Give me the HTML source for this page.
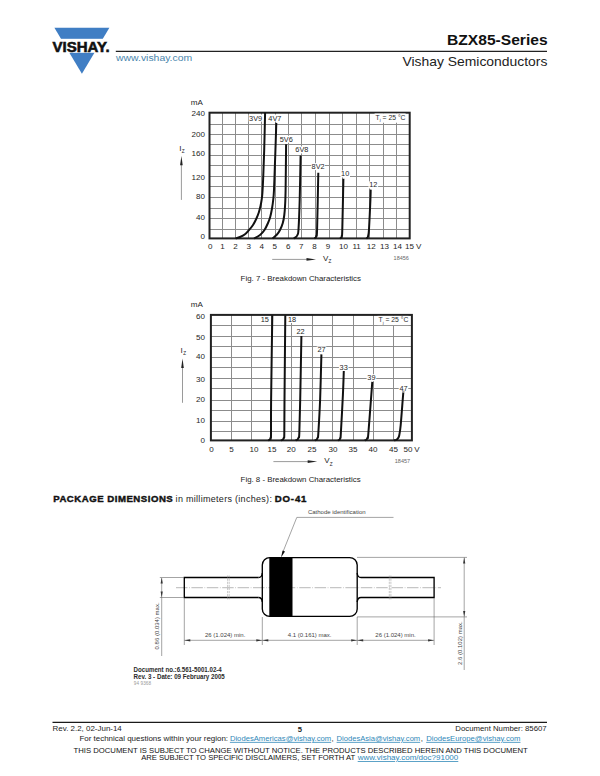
<!DOCTYPE html>
<html><head><meta charset="utf-8">
<style>
html,body{margin:0;padding:0;background:#fff;}
body{width:600px;height:776px;position:relative;overflow:hidden;font-family:"Liberation Sans",sans-serif;color:#111;}
svg{position:absolute;left:0;top:0;}
svg text{font-family:"Liberation Sans",sans-serif;}
.g{stroke:#8c8c8c;stroke-width:1;}
.fr{fill:none;stroke:#222;stroke-width:2;}
.cv{fill:none;stroke:#111;stroke-width:2;stroke-linecap:butt;}
.t{font-size:8.05px;fill:#262626;}
.tj{font-size:6.8px;fill:#2a2a2a;}
.tl{font-size:7.35px;fill:#262626;}
.tn{font-size:5.5px;fill:#666;}
.ar{stroke:#555;stroke-width:0.6;}
.dl{stroke:#666;stroke-width:0.6;fill:none;}
.ol{stroke:#000;stroke-width:1.35;fill:none;}
.dt{font-size:6.0px;fill:#444;}
</style></head>
<body>
<!-- header -->
<svg width="600" height="776" viewBox="0 0 600 776">
  <polygon points="54.4,27.8 109.4,27.8 81.9,73.8" fill="#407ec4"/>
  <rect x="50" y="38.8" width="62" height="14" fill="#fff"/>
  <text x="52.6" y="51.8" font-size="14" font-weight="bold" fill="#111" stroke="#111" stroke-width="0.55" textLength="57.0" lengthAdjust="spacingAndGlyphs">VISHAY.</text>
  <line x1="115.8" y1="51.4" x2="547" y2="51.4" stroke="#222" stroke-width="1.3"/>
<line x1="209.5" y1="124.50" x2="409.7" y2="124.50" class="g"/>
<line x1="209.5" y1="134.50" x2="409.7" y2="134.50" class="g"/>
<line x1="209.5" y1="144.50" x2="409.7" y2="144.50" class="g"/>
<line x1="209.5" y1="155.50" x2="409.7" y2="155.50" class="g"/>
<line x1="209.5" y1="165.50" x2="409.7" y2="165.50" class="g"/>
<line x1="209.5" y1="176.50" x2="409.7" y2="176.50" class="g"/>
<line x1="209.5" y1="186.50" x2="409.7" y2="186.50" class="g"/>
<line x1="209.5" y1="197.50" x2="409.7" y2="197.50" class="g"/>
<line x1="209.5" y1="208.50" x2="409.7" y2="208.50" class="g"/>
<line x1="209.5" y1="218.50" x2="409.7" y2="218.50" class="g"/>
<line x1="209.5" y1="229.50" x2="409.7" y2="229.50" class="g"/>
<line x1="222.50" y1="112.7" x2="222.50" y2="238.4" class="g"/>
<line x1="235.50" y1="112.7" x2="235.50" y2="238.4" class="g"/>
<line x1="248.50" y1="112.7" x2="248.50" y2="238.4" class="g"/>
<line x1="261.50" y1="112.7" x2="261.50" y2="238.4" class="g"/>
<line x1="275.50" y1="112.7" x2="275.50" y2="238.4" class="g"/>
<line x1="288.50" y1="112.7" x2="288.50" y2="238.4" class="g"/>
<line x1="301.50" y1="112.7" x2="301.50" y2="238.4" class="g"/>
<line x1="315.50" y1="112.7" x2="315.50" y2="238.4" class="g"/>
<line x1="329.50" y1="112.7" x2="329.50" y2="238.4" class="g"/>
<line x1="342.50" y1="112.7" x2="342.50" y2="238.4" class="g"/>
<line x1="356.50" y1="112.7" x2="356.50" y2="238.4" class="g"/>
<line x1="369.50" y1="112.7" x2="369.50" y2="238.4" class="g"/>
<line x1="383.50" y1="112.7" x2="383.50" y2="238.4" class="g"/>
<line x1="396.50" y1="112.7" x2="396.50" y2="238.4" class="g"/>
<rect x="209.5" y="112.7" width="200.2" height="125.7" class="fr"/>
<rect x="248.7" y="114.6" width="13.8" height="7" fill="#fff"/>
<rect x="268.0" y="114.6" width="13.8" height="7" fill="#fff"/>
<rect x="279.4" y="135.7" width="13.8" height="7" fill="#fff"/>
<rect x="295.0" y="146.4" width="13.8" height="7" fill="#fff"/>
<rect x="311.2" y="163.1" width="13.8" height="7" fill="#fff"/>
<rect x="340.4" y="170.4" width="9.6" height="7" fill="#fff"/>
<rect x="368.5" y="181.4" width="9.6" height="7" fill="#fff"/>
<path d="M235.60,238.40 C236.33,238.17 238.43,237.70 240.00,237.00 C241.57,236.30 243.50,235.37 245.00,234.20 C246.50,233.03 247.67,231.53 249.00,230.00 C250.33,228.47 251.80,226.83 253.00,225.00 C254.20,223.17 255.23,221.08 256.20,219.00 C257.17,216.92 258.08,214.67 258.80,212.50 C259.52,210.33 260.03,208.08 260.50,206.00 C260.97,203.92 261.28,202.17 261.60,200.00 C261.92,197.83 262.12,197.17 262.40,193.00 C262.68,188.83 263.00,182.17 263.30,175.00 C263.60,167.83 263.90,160.38 264.20,150.00 C264.50,139.62 264.95,118.92 265.10,112.70" class="cv"/>
<path d="M254.00,238.40 C255.00,237.83 258.25,236.40 260.00,235.00 C261.75,233.60 263.17,232.00 264.50,230.00 C265.83,228.00 267.05,225.17 268.00,223.00 C268.95,220.83 269.53,219.42 270.20,217.00 C270.87,214.58 271.50,211.33 272.00,208.50 C272.50,205.67 272.87,203.08 273.20,200.00 C273.53,196.92 273.72,195.83 274.00,190.00 C274.28,184.17 274.63,172.50 274.90,165.00 C275.17,157.50 275.37,152.02 275.60,145.00 C275.83,137.98 276.18,126.58 276.30,122.90" class="cv"/>
<path d="M272.50,238.40 C273.25,237.75 275.75,235.90 277.00,234.50 C278.25,233.10 279.03,231.92 280.00,230.00 C280.97,228.08 282.08,225.50 282.80,223.00 C283.52,220.50 283.92,218.00 284.30,215.00 C284.68,212.00 284.88,209.17 285.10,205.00 C285.32,200.83 285.43,200.13 285.60,190.00 C285.77,179.87 286.02,151.83 286.10,144.20" class="cv"/>
<path d="M293.70,238.40 C294.03,238.22 295.08,237.87 295.70,237.30 C296.32,236.73 296.93,236.30 297.40,235.00 C297.87,233.70 298.12,235.33 298.50,229.50 C298.88,223.67 299.35,212.35 299.70,200.00 C300.05,187.65 300.45,162.83 300.60,155.40" class="cv"/>
<path d="M314.30,238.40 C314.52,238.27 315.27,238.00 315.60,237.60 C315.93,237.20 316.05,237.38 316.30,236.00 C316.55,234.62 316.77,239.85 317.10,229.30 C317.43,218.75 318.10,182.13 318.30,172.70" class="cv"/>
<path d="M340.00,238.40 C340.20,238.27 340.90,238.00 341.20,237.60 C341.50,237.20 341.62,237.40 341.80,236.00 C341.98,234.60 342.03,238.75 342.30,229.20 C342.57,219.65 343.22,187.12 343.40,178.70" class="cv"/>
<path d="M366.30,238.40 C366.50,238.27 367.20,238.00 367.50,237.60 C367.80,237.20 367.85,237.40 368.10,236.00 C368.35,234.60 368.62,235.20 369.00,229.20 C369.38,223.20 370.12,206.60 370.40,200.00 C370.68,193.40 370.65,191.33 370.70,189.60" class="cv"/>
<text x="255.6" y="120.5" text-anchor="middle" class="tl">3V9</text>
<text x="274.9" y="120.5" text-anchor="middle" class="tl">4V7</text>
<text x="286.3" y="141.6" text-anchor="middle" class="tl">5V6</text>
<text x="301.9" y="152.3" text-anchor="middle" class="tl">6V8</text>
<text x="318.1" y="169.0" text-anchor="middle" class="tl">8V2</text>
<text x="345.2" y="176.3" text-anchor="middle" class="tl">10</text>
<text x="373.3" y="187.3" text-anchor="middle" class="tl">12</text>
<rect x="374.6" y="113.5" width="31" height="9.2" fill="#fff"/>
<text x="375.6" y="119.5" class="tj">T<tspan font-size="4.2" dy="1.6">j</tspan><tspan dy="-1.6"> = 25 °C</tspan></text>
<text x="205.0" y="116.1" text-anchor="end" class="t">240</text>
<text x="205.0" y="137.3" text-anchor="end" class="t">200</text>
<text x="205.0" y="156.4" text-anchor="end" class="t">160</text>
<text x="205.0" y="179.9" text-anchor="end" class="t">120</text>
<text x="205.0" y="199.2" text-anchor="end" class="t">80</text>
<text x="205.0" y="220.1" text-anchor="end" class="t">40</text>
<text x="205.0" y="239.4" text-anchor="end" class="t">0</text>
<text x="190.8" y="104.6" class="t">mA</text>
<text x="210.3" y="249.1" text-anchor="middle" class="t">0</text>
<text x="222.5" y="249.1" text-anchor="middle" class="t">1</text>
<text x="235.5" y="249.1" text-anchor="middle" class="t">2</text>
<text x="248.7" y="249.1" text-anchor="middle" class="t">3</text>
<text x="261.7" y="249.1" text-anchor="middle" class="t">4</text>
<text x="274.7" y="249.1" text-anchor="middle" class="t">5</text>
<text x="288.3" y="249.1" text-anchor="middle" class="t">6</text>
<text x="301.3" y="249.1" text-anchor="middle" class="t">7</text>
<text x="314.6" y="249.1" text-anchor="middle" class="t">8</text>
<text x="328.0" y="249.1" text-anchor="middle" class="t">9</text>
<text x="343.6" y="249.1" text-anchor="middle" class="t">10</text>
<text x="356.6" y="249.1" text-anchor="middle" class="t">11</text>
<text x="371.2" y="249.1" text-anchor="middle" class="t">12</text>
<text x="384.6" y="249.1" text-anchor="middle" class="t">13</text>
<text x="397.4" y="249.1" text-anchor="middle" class="t">14</text>
<text x="409.6" y="249.1" text-anchor="middle" class="t">15</text>
<text x="418.6" y="249.1" text-anchor="middle" class="t">V</text>
<text x="179.2" y="150.6" class="t">I<tspan font-size="4.6" dy="2.4" dx="0.3">Z</tspan></text>
<line x1="181.4" y1="199.9" x2="181.4" y2="164.7" class="ar"/>
<path d="M181.4,155.9 L180.1,165.2 L182.7,165.2 Z" fill="#222"/>
<line x1="272.2" y1="259.4" x2="307.0" y2="259.4" class="ar"/>
<path d="M316.0,259.4 L306.5,258.1 L306.5,260.7 Z" fill="#222"/>
<text x="323.0" y="260.8" class="t">V<tspan font-size="4.6" dy="2.4" dx="0.2">Z</tspan></text>
<text x="393.6" y="260.0" class="tn">18456</text>
<line x1="210.9" y1="325.50" x2="411.9" y2="325.50" class="g"/>
<line x1="210.9" y1="336.50" x2="411.9" y2="336.50" class="g"/>
<line x1="210.9" y1="346.50" x2="411.9" y2="346.50" class="g"/>
<line x1="210.9" y1="357.50" x2="411.9" y2="357.50" class="g"/>
<line x1="210.9" y1="367.50" x2="411.9" y2="367.50" class="g"/>
<line x1="210.9" y1="378.50" x2="411.9" y2="378.50" class="g"/>
<line x1="210.9" y1="388.50" x2="411.9" y2="388.50" class="g"/>
<line x1="210.9" y1="400.50" x2="411.9" y2="400.50" class="g"/>
<line x1="210.9" y1="410.50" x2="411.9" y2="410.50" class="g"/>
<line x1="210.9" y1="421.50" x2="411.9" y2="421.50" class="g"/>
<line x1="210.9" y1="431.50" x2="411.9" y2="431.50" class="g"/>
<line x1="231.50" y1="314.9" x2="231.50" y2="440.4" class="g"/>
<line x1="251.50" y1="314.9" x2="251.50" y2="440.4" class="g"/>
<line x1="271.50" y1="314.9" x2="271.50" y2="440.4" class="g"/>
<line x1="291.50" y1="314.9" x2="291.50" y2="440.4" class="g"/>
<line x1="312.50" y1="314.9" x2="312.50" y2="440.4" class="g"/>
<line x1="332.50" y1="314.9" x2="332.50" y2="440.4" class="g"/>
<line x1="353.50" y1="314.9" x2="353.50" y2="440.4" class="g"/>
<line x1="373.50" y1="314.9" x2="373.50" y2="440.4" class="g"/>
<line x1="393.50" y1="314.9" x2="393.50" y2="440.4" class="g"/>
<rect x="210.9" y="314.9" width="201.0" height="125.5" class="fr"/>
<rect x="260.0" y="316.0" width="9.6" height="7" fill="#fff"/>
<rect x="287.3" y="316.0" width="9.6" height="7" fill="#fff"/>
<rect x="295.7" y="327.6" width="9.6" height="7" fill="#fff"/>
<rect x="316.7" y="346.4" width="9.6" height="7" fill="#fff"/>
<rect x="338.9" y="364.1" width="9.6" height="7" fill="#fff"/>
<rect x="366.6" y="374.2" width="9.6" height="7" fill="#fff"/>
<rect x="398.7" y="384.7" width="9.6" height="7" fill="#fff"/>
<path d="M268.20,440.40 C268.47,440.27 269.38,440.08 269.80,439.60 C270.22,439.12 270.50,438.43 270.70,437.50 C270.90,436.57 270.93,440.25 271.00,434.00 C271.07,427.75 270.88,419.80 271.10,400.00 C271.32,380.20 272.10,329.33 272.30,315.20" class="cv"/>
<path d="M281.00,440.40 C281.30,440.27 282.32,440.08 282.80,439.60 C283.28,439.12 283.65,438.43 283.90,437.50 C284.15,436.57 284.20,440.25 284.30,434.00 C284.40,427.75 284.33,419.80 284.50,400.00 C284.67,380.20 285.17,329.33 285.30,315.20" class="cv"/>
<path d="M295.60,440.40 C295.90,440.27 296.90,440.08 297.40,439.60 C297.90,439.12 298.28,438.52 298.60,437.50 C298.92,436.48 299.03,439.75 299.30,433.50 C299.57,427.25 299.85,416.23 300.20,400.00 C300.55,383.77 301.20,346.75 301.40,336.10" class="cv"/>
<path d="M314.80,440.40 C315.10,440.27 316.12,440.08 316.60,439.60 C317.08,439.12 317.42,438.52 317.70,437.50 C317.98,436.48 317.90,439.75 318.30,433.50 C318.70,427.25 319.58,413.18 320.10,400.00 C320.62,386.82 321.18,362.00 321.40,354.40" class="cv"/>
<path d="M338.00,440.40 C338.27,440.27 339.20,440.08 339.60,439.60 C340.00,439.12 340.20,438.43 340.40,437.50 C340.60,436.57 340.38,441.08 340.80,434.00 C341.22,426.92 342.40,405.50 342.90,395.00 C343.40,384.50 343.65,375.00 343.80,371.00" class="cv"/>
<path d="M364.70,440.40 C365.00,440.27 366.02,440.08 366.50,439.60 C366.98,439.12 367.30,438.43 367.60,437.50 C367.90,436.57 367.68,441.08 368.30,434.00 C368.92,426.92 370.63,403.70 371.30,395.00 C371.97,386.30 372.13,384.00 372.30,381.80" class="cv"/>
<path d="M394.00,440.40 C394.42,440.30 395.80,440.20 396.50,439.80 C397.20,439.40 397.73,438.80 398.20,438.00 C398.67,437.20 398.88,437.17 399.30,435.00 C399.72,432.83 400.07,431.67 400.70,425.00 C401.33,418.33 402.63,400.45 403.10,395.00 C403.57,389.55 403.43,392.75 403.50,392.30" class="cv"/>
<text x="264.8" y="321.9" text-anchor="middle" class="tl">15</text>
<text x="292.1" y="321.9" text-anchor="middle" class="tl">18</text>
<text x="300.5" y="333.5" text-anchor="middle" class="tl">22</text>
<text x="321.5" y="352.3" text-anchor="middle" class="tl">27</text>
<text x="343.7" y="370.0" text-anchor="middle" class="tl">33</text>
<text x="371.4" y="380.1" text-anchor="middle" class="tl">39</text>
<text x="403.5" y="390.6" text-anchor="middle" class="tl">47</text>
<rect x="377.5" y="315.9" width="31" height="9.2" fill="#fff"/>
<text x="378.5" y="321.9" class="tj">T<tspan font-size="4.2" dy="1.6">j</tspan><tspan dy="-1.6"> = 25 °C</tspan></text>
<text x="205.0" y="318.9" text-anchor="end" class="t">60</text>
<text x="205.0" y="339.9" text-anchor="end" class="t">50</text>
<text x="205.0" y="359.1" text-anchor="end" class="t">40</text>
<text x="205.0" y="382.3" text-anchor="end" class="t">30</text>
<text x="205.0" y="402.0" text-anchor="end" class="t">20</text>
<text x="205.0" y="422.7" text-anchor="end" class="t">10</text>
<text x="205.0" y="442.5" text-anchor="end" class="t">0</text>
<text x="190.8" y="306.8" class="t">mA</text>
<text x="211.4" y="452.2" text-anchor="middle" class="t">0</text>
<text x="231.6" y="452.2" text-anchor="middle" class="t">5</text>
<text x="253.9" y="452.2" text-anchor="middle" class="t">10</text>
<text x="271.9" y="452.2" text-anchor="middle" class="t">15</text>
<text x="291.2" y="452.2" text-anchor="middle" class="t">20</text>
<text x="312.1" y="452.2" text-anchor="middle" class="t">25</text>
<text x="333.0" y="452.2" text-anchor="middle" class="t">30</text>
<text x="353.0" y="452.2" text-anchor="middle" class="t">35</text>
<text x="373.0" y="452.2" text-anchor="middle" class="t">40</text>
<text x="393.4" y="452.2" text-anchor="middle" class="t">45</text>
<text x="408.0" y="452.2" text-anchor="middle" class="t">50</text>
<text x="417.0" y="452.2" text-anchor="middle" class="t">V</text>
<text x="180.6" y="352.7" class="t">I<tspan font-size="4.6" dy="2.4" dx="0.3">Z</tspan></text>
<line x1="182.5" y1="402.8" x2="182.5" y2="367.6" class="ar"/>
<path d="M182.5,358.4 L181.2,368.1 L183.8,368.1 Z" fill="#222"/>
<line x1="273.4" y1="461.6" x2="308.2" y2="461.6" class="ar"/>
<path d="M317.2,461.6 L307.7,460.3 L307.7,462.9 Z" fill="#222"/>
<text x="324.2" y="463.4" class="t">V<tspan font-size="4.6" dy="2.4" dx="0.2">Z</tspan></text>
<text x="394.8" y="462.8" class="tn">18457</text>
  <!-- package drawing -->
  <g>
    <!-- centerline -->
    <line x1="176" y1="587.7" x2="441" y2="587.7" stroke="#8a8a8a" stroke-width="0.6" stroke-dasharray="11.5,1.6,0.7,1.6"/>
    <!-- leads -->
    <path class="ol" d="M258.5,577.5 L184.3,577.5 L184.3,597.5 L258.5,597.5"/>
    <path class="ol" d="M361,577.5 L434.1,577.5 L434.1,597.5 L361,597.5"/>
    <path class="ol" d="M258.5,577.5 Q262,577.5 262.3,573"/>
    <path class="ol" d="M258.5,597.5 Q262,597.5 262.3,602"/>
    <path class="ol" d="M361,577.5 Q357.5,577.5 357.2,573"/>
    <path class="ol" d="M361,597.5 Q357.5,597.5 357.2,602"/>
    <!-- body -->
    <rect class="ol" x="262.3" y="557.6" width="94.9" height="58.8" rx="7.5" ry="7.5"/>
    <path d="M269.3,557.6 L292.5,557.6 L292.5,616.4 L269.3,616.4 Z" fill="#000"/>
    <!-- break marks -->
    <line x1="227.6" y1="575.5" x2="227.6" y2="599.5" stroke="#999" stroke-width="0.55" stroke-dasharray="2.2,0.9"/>
    <line x1="229.2" y1="575.5" x2="229.2" y2="599.5" stroke="#999" stroke-width="0.55" stroke-dasharray="2.2,0.9"/>
    <line x1="389.3" y1="575.5" x2="389.3" y2="599.5" stroke="#999" stroke-width="0.55" stroke-dasharray="2.2,0.9"/>
    <line x1="390.9" y1="575.5" x2="390.9" y2="599.5" stroke="#999" stroke-width="0.55" stroke-dasharray="2.2,0.9"/>
    <!-- cathode leader -->
    <polyline class="dl" points="393.5,517.4 296.8,517.4 282.5,553"/>
    <path d="M281,557.4 L282.6,550.6 L285,551.6 Z" fill="#111"/>
    <text x="307.9" y="514.4" class="dt">Cathode identification</text>
    <!-- left 0.86 dim -->
    <line class="dl" x1="159.8" y1="577.5" x2="184" y2="577.5"/>
    <line class="dl" x1="159.8" y1="597.5" x2="184" y2="597.5"/>
    <line class="dl" x1="161.7" y1="578" x2="161.7" y2="656"/>
    <path d="M161.7,577.7 L160.6,583.5 L162.8,583.5 Z" fill="#333"/>
    <path d="M161.7,597.3 L160.6,591.5 L162.8,591.5 Z" fill="#333"/>
    <text class="dt" transform="translate(158.6,649.4) rotate(-90)">0.86 (0.034) max.</text>
    <!-- right 2.6 dim -->
    <line class="dl" x1="357" y1="557.4" x2="467" y2="557.4"/>
    <line class="dl" x1="357" y1="616.9" x2="467" y2="616.9"/>
    <line class="dl" x1="464.2" y1="557.5" x2="464.2" y2="670"/>
    <path d="M464.2,557.6 L463.1,563.4 L465.3,563.4 Z" fill="#333"/>
    <path d="M464.2,616.7 L463.1,610.9 L465.3,610.9 Z" fill="#333"/>
    <text class="dt" transform="translate(462.4,665.0) rotate(-90)">2.6 (0.102) max.</text>
    <!-- bottom dims -->
    <line class="dl" x1="184.3" y1="598" x2="184.3" y2="645"/>
    <line class="dl" x1="262.3" y1="617" x2="262.3" y2="645"/>
    <line class="dl" x1="357.2" y1="617" x2="357.2" y2="645"/>
    <line class="dl" x1="434.1" y1="598" x2="434.1" y2="645"/>
    <line class="dl" x1="184.3" y1="640.3" x2="434.1" y2="640.3"/>
    <path d="M184.5,640.3 L190.3,639.2 L190.3,641.4 Z M262.1,640.3 L256.3,639.2 L256.3,641.4 Z" fill="#333"/>
    <path d="M262.5,640.3 L268.3,639.2 L268.3,641.4 Z M357,640.3 L351.2,639.2 L351.2,641.4 Z" fill="#333"/>
    <path d="M357.4,640.3 L363.2,639.2 L363.2,641.4 Z M433.9,640.3 L428.1,639.2 L428.1,641.4 Z" fill="#333"/>
    <text class="dt" x="225.2" y="637" text-anchor="middle">26 (1.024) min.</text>
    <text class="dt" x="309.7" y="637" text-anchor="middle">4.1 (0.161) max.</text>
    <text class="dt" x="395.5" y="637" text-anchor="middle">26 (1.024) min.</text>
  </g>
  <line x1="52.5" y1="722.4" x2="547" y2="722.4" stroke="#1a1a1a" stroke-width="1.2"/>
</svg>

<svg width="600" height="776" viewBox="0 0 600 776">
<g font-family="Liberation Sans, sans-serif">
  <text x="116.0" y="60.75" font-size="9.6" fill="#4a86ad" textLength="76.2" lengthAdjust="spacingAndGlyphs">www.vishay.com</text>
  <text x="547.6" y="45" font-size="14.8" font-weight="bold" fill="#111" text-anchor="end" textLength="100.6" lengthAdjust="spacingAndGlyphs">BZX85-Series</text>
  <text x="547.4" y="66.2" font-size="12.9" fill="#222" text-anchor="end" textLength="145" lengthAdjust="spacingAndGlyphs">Vishay Semiconductors</text>

  <text x="240.6" y="280.7" font-size="8.0" fill="#222" textLength="120.4" lengthAdjust="spacingAndGlyphs">Fig. 7 - Breakdown Characteristics</text>
  <text x="240.6" y="481.9" font-size="8.0" fill="#222" textLength="120.0" lengthAdjust="spacingAndGlyphs">Fig. 8 - Breakdown Characteristics</text>

  <text transform="translate(53.2,501.5) scale(1.08,1)" x="0" y="0" font-size="8.9" font-weight="bold" fill="#111" stroke="#111" stroke-width="0.4" textLength="110.7" lengthAdjust="spacing">PACKAGE DIMENSIONS</text>
  <text x="175.6" y="501.5" font-size="9" fill="#222" textLength="96.3" lengthAdjust="spacing">in millimeters (inches):</text>
  <text transform="translate(274.8,501.5) scale(1.08,1)" x="0" y="0" font-size="8.9" font-weight="bold" fill="#111" stroke="#111" stroke-width="0.4" textLength="29.3" lengthAdjust="spacing">DO-41</text>

  <text x="133.6" y="671.7" font-size="6.5" font-weight="bold" fill="#2a2a2a" textLength="88.2" lengthAdjust="spacingAndGlyphs">Document no.:6.561-5001.02-4</text>
  <text x="133.6" y="678.5" font-size="6.5" font-weight="bold" fill="#2a2a2a" textLength="91.2" lengthAdjust="spacingAndGlyphs">Rev. 3 - Date: 09 February 2005</text>
  <text x="133.8" y="684.5" font-size="4.6" fill="#999" textLength="17.2" lengthAdjust="spacing">94 9368</text>

  <text x="52.6" y="730.9" font-size="8.0" fill="#222" textLength="69.2" lengthAdjust="spacingAndGlyphs">Rev. 2.2, 02-Jun-14</text>
  <text x="297.7" y="731.6" font-size="7.6" font-weight="bold" fill="#222">5</text>
  <text x="546.7" y="730.8" font-size="7.9" fill="#222" text-anchor="end" textLength="91.4" lengthAdjust="spacingAndGlyphs">Document Number: 85607</text>
  <text x="79.4" y="740.9" font-size="7.9" fill="#222" textLength="148.7" lengthAdjust="spacingAndGlyphs">For technical questions within your region:</text>
  <text x="229.9" y="740.9" font-size="7.9" fill="#2f88b8" text-decoration="underline" textLength="101.3" lengthAdjust="spacingAndGlyphs">DiodesAmericas@vishay.com</text>
  <text x="331.4" y="740.9" font-size="7.9" fill="#222">,</text>
  <text x="336.6" y="740.9" font-size="7.9" fill="#2f88b8" text-decoration="underline" textLength="83.6" lengthAdjust="spacingAndGlyphs">DiodesAsia@vishay.com</text>
  <text x="420.7" y="740.9" font-size="7.9" fill="#222">,</text>
  <text x="426.2" y="740.9" font-size="7.9" fill="#2f88b8" text-decoration="underline" textLength="94.3" lengthAdjust="spacingAndGlyphs">DiodesEurope@vishay.com</text>
  <text x="73.6" y="752.5" font-size="8.0" fill="#111" textLength="454.2" lengthAdjust="spacingAndGlyphs">THIS DOCUMENT IS SUBJECT TO CHANGE WITHOUT NOTICE. THE PRODUCTS DESCRIBED HEREIN AND THIS DOCUMENT</text>
  <text x="141.2" y="760.0" font-size="7.8" fill="#111" textLength="214" lengthAdjust="spacingAndGlyphs">ARE SUBJECT TO SPECIFIC DISCLAIMERS, SET FORTH AT</text>
  <text x="357.7" y="760.0" font-size="7.8" fill="#2f88b8" text-decoration="underline" textLength="100.6" lengthAdjust="spacingAndGlyphs">www.vishay.com/doc?91000</text>
</g>
</svg>
</body></html>
